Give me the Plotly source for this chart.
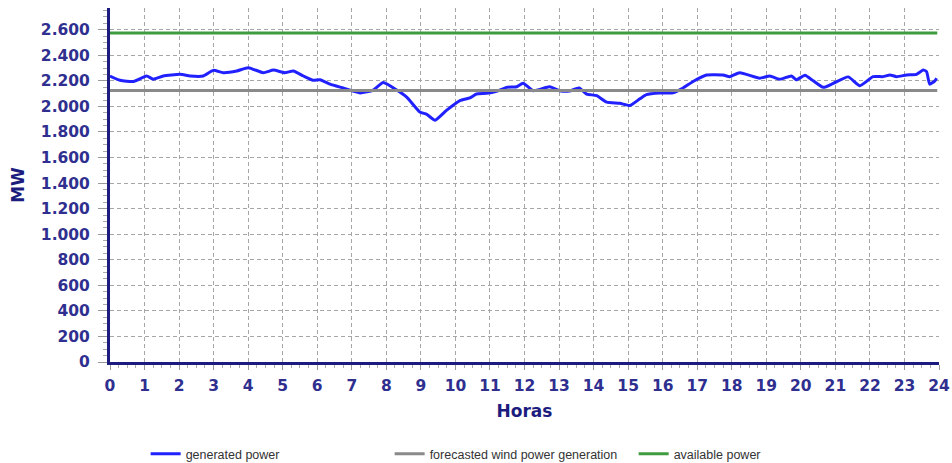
import plotly.graph_objects as go

# ---- data ----
hours = [0.00, 0.29, 0.68, 1.06, 1.25, 1.54, 2.03, 2.32, 2.70, 2.99, 3.28, 3.67, 4.00, 4.44,
         4.73, 5.06, 5.31, 5.60, 5.88, 6.08, 6.37, 6.75, 7.24, 7.62, 7.91, 8.30, 8.59, 8.97,
         9.17, 9.41, 9.74, 10.13, 10.42, 10.61, 10.90, 11.19, 11.48, 11.77, 11.96, 12.25,
         12.73, 13.02, 13.30, 13.58, 13.80, 14.09, 14.38, 14.76, 15.05, 15.34, 15.53, 15.92,
         16.30, 16.59, 16.88, 17.27, 17.75, 17.94, 18.23, 18.81, 19.10, 19.39, 19.73, 19.87,
         20.12, 20.36, 20.65, 20.94, 21.37, 21.71, 22.09, 22.38, 22.58, 22.77, 23.06, 23.35,
         23.54, 23.64, 23.73, 23.88, 23.93]
generated_power = [2238, 2205, 2195, 2238, 2213, 2238, 2251, 2238, 2238, 2282, 2264, 2277, 2303, 2264,
                   2284, 2264, 2277, 2238, 2205, 2208, 2174, 2144, 2105, 2128, 2187, 2128, 2072, 1956,
                   1938, 1892, 1969, 2046, 2067, 2097, 2102, 2118, 2149, 2154, 2182, 2123,
                   2154, 2123, 2120, 2144, 2097, 2084, 2033, 2025, 2007, 2059, 2092, 2105,
                   2106, 2144, 2195, 2246, 2246, 2233, 2264, 2221, 2238, 2213, 2238, 2208,
                   2244, 2200, 2149, 2180, 2231, 2162, 2233, 2233, 2246, 2233, 2246, 2251,
                   2284, 2272, 2174, 2200, 2221]

flat_hours = [0, 23.95]
forecast_power = [2125, 2125]
available_power = [2575, 2575]

x_ticks = list(range(0, 25))
y_ticks = list(range(0, 2601, 200))

NAVY = "#1c1c7e"
TICK_COL = "#2f2f8f"
GRID = "#a6a6a6"

fig = go.Figure()
fig.add_trace(go.Scatter(x=hours, y=generated_power, mode="lines", name="generated power",
                         line=dict(color="#2121ff", width=3, shape="spline", smoothing=0.5)))
fig.add_trace(go.Scatter(x=flat_hours, y=forecast_power, mode="lines",
                         name="forecasted wind power generation",
                         line=dict(color="#8a8a8a", width=3)))
fig.add_trace(go.Scatter(x=flat_hours, y=available_power, mode="lines", name="available power",
                         line=dict(color="#3f9b3f", width=3)))

tickfont = dict(family="DejaVu Sans", size=15.5, color=TICK_COL, weight="bold")
titlefont = dict(family="DejaVu Sans", size=17, color=NAVY)

fig.update_layout(
    width=952, height=463,
    margin=dict(l=110, r=13, t=8, b=101, pad=0, autoexpand=False),
    paper_bgcolor="white", plot_bgcolor="white",
    separators=",.",
    showlegend=True,
    legend=dict(orientation="h", x=0.043, xanchor="left",
                yref="container", y=1 - 454 / 463, yanchor="middle",
                font=dict(family="Liberation Sans, Arial", size=12.5, color="#333333"),
                entrywidth=199, entrywidthmode="pixels",
                bgcolor="rgba(0,0,0,0)", borderwidth=0),
    xaxis=dict(range=[0, 24], tickvals=x_ticks, ticktext=[str(v) for v in x_ticks],
               automargin=False,
               showgrid=True, gridcolor=GRID, griddash="4px,3px", gridwidth=1,
               showline=True, linecolor=NAVY, linewidth=3, zeroline=False,
               ticks="outside", ticklen=5, tickcolor="#999999", tickwidth=1,
               minor=dict(dtick=0.25, tick0=0, ticks="outside", ticklen=3, tickcolor="#aaaaaa", showgrid=False),
               tickfont=tickfont, ticklabelstandoff=2,
               title=dict(text="<b>Horas</b>", font=titlefont, standoff=12)),
    yaxis=dict(range=[0, 2770], tickvals=y_ticks, tickformat=",d",
               automargin=False,
               showgrid=True, gridcolor=GRID, griddash="4px,3px", gridwidth=1,
               showline=True, linecolor=NAVY, linewidth=3, zeroline=False,
               ticks="outside", ticklen=9, tickcolor="#999999", tickwidth=1,
               minor=dict(dtick=50, tick0=0, ticks="outside", ticklen=4, tickcolor="#aaaaaa", showgrid=False),
               tickfont=tickfont, ticklabelstandoff=5,
               title=dict(text="<b>MW</b>", font=titlefont, standoff=12)),
)

fig.write_html("out.html", config={"displayModeBar": False},
               post_script="document.body.style.margin='0';")
